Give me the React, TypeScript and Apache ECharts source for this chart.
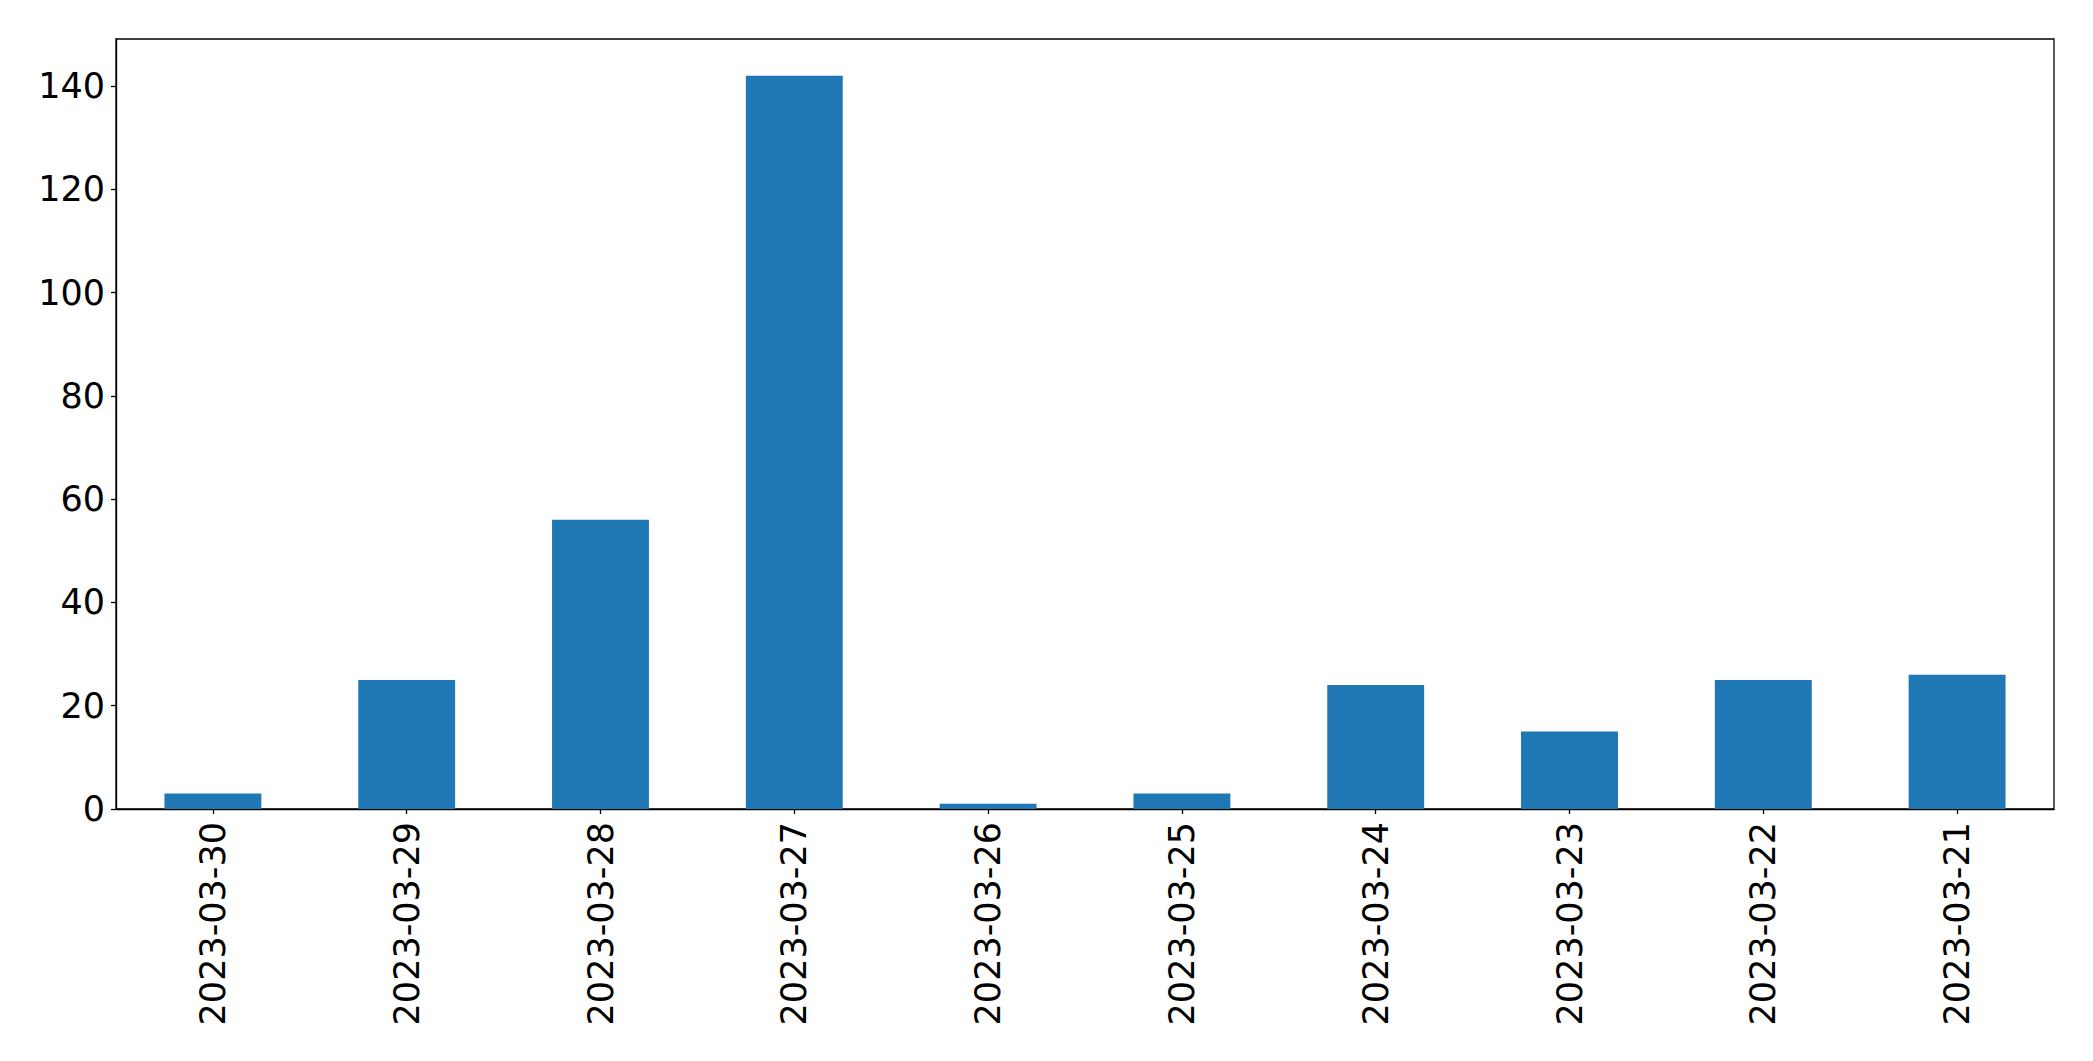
import React, { useEffect, useRef } from "react";
import * as echarts from "echarts";

const categories = [
  "2023-03-30",
  "2023-03-29",
  "2023-03-28",
  "2023-03-27",
  "2023-03-26",
  "2023-03-25",
  "2023-03-24",
  "2023-03-23",
  "2023-03-22",
  "2023-03-21",
];
const counts = [3, 25, 56, 142, 1, 3, 24, 15, 25, 26];
const yMax = 149.1;
const yInterval = 20;

const FONT = "DejaVu Sans";

export default function App() {
  const ref = useRef<HTMLDivElement>(null);
  useEffect(() => {
    if (!ref.current) return;
    const chart = echarts.init(ref.current, null, { renderer: "svg" });
    chart.setOption({
      animation: false,
      backgroundColor: "#ffffff",
      grid: {
        left: 116,
        top: 39,
        right: 39,
        bottom: 252,
        show: true,
        borderColor: "#000000",
        borderWidth: 1.3,
        backgroundColor: "transparent",
      },
      xAxis: {
        type: "category",
        data: categories,
        boundaryGap: true,
        axisLine: { show: true, lineStyle: { color: "#000000", width: 1.3 } },
        axisTick: {
          show: true,
          alignWithLabel: true,
          length: 5,
          lineStyle: { color: "#000000", width: 1.3 },
        },
        axisLabel: {
          rotate: 90,
          margin: 13,
          color: "#000000",
          fontFamily: FONT,
          fontSize: 35,
          interval: 0,
        },
        splitLine: { show: false },
      },
      yAxis: {
        type: "value",
        min: 0,
        max: yMax,
        interval: yInterval,
        axisLine: { show: true, lineStyle: { color: "#000000", width: 1.3 } },
        axisTick: {
          show: true,
          length: 5,
          lineStyle: { color: "#000000", width: 1.3 },
        },
        axisLabel: {
          margin: 11,
          color: "#000000",
          fontFamily: FONT,
          fontSize: 35,
          showMaxLabel: false,
          formatter: (v: number) => (v % yInterval === 0 ? String(v) : ""),
        },
        splitLine: { show: false },
      },
      series: [
        {
          type: "bar",
          data: counts,
          barWidth: "50%",
          itemStyle: { color: "#1f77b4" },
        },
      ],
    });
    return () => chart.dispose();
  }, []);
  return (
    <div
      ref={ref}
      style={{ position: "fixed", left: 0, top: 0, width: 2093, height: 1061, background: "#fff" }}
    />
  );
}
